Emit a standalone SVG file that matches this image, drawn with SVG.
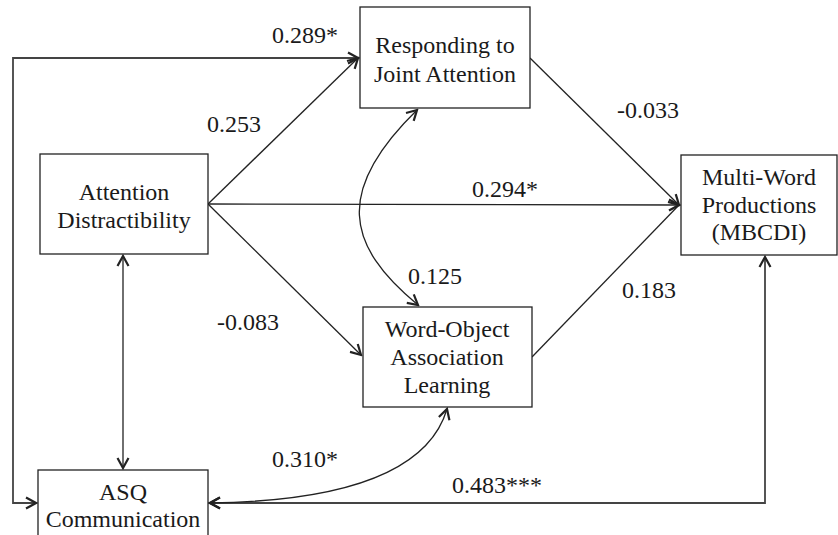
<svg xmlns="http://www.w3.org/2000/svg" width="838" height="535" viewBox="0 0 838 535">
<style>
.box{fill:#fff;stroke:#222;stroke-width:1.3}
.t{font-family:"Liberation Serif","Times New Roman",serif;font-size:24px;fill:#1a1a1a}
.c{text-anchor:middle}
.ln{fill:none;stroke:#222;stroke-width:1.3}
.fr{fill:none;stroke:#444;stroke-width:1.8}
</style>
<defs>
<marker id="ah" viewBox="-12 -7 14 14" markerWidth="14" markerHeight="14" refX="0" refY="0" orient="auto-start-reverse" markerUnits="userSpaceOnUse">
<path d="M -10,-5.5 L 0,0 L -10,5.5" fill="none" stroke="#222" stroke-width="2.2"/>
</marker>
</defs>
<rect width="838" height="535" fill="#fff"/>
<g id="connectors">
<path class="fr" d="M 36,503 L 13,503 L 13,58 L 358,58" marker-start="url(#ah)" marker-end="url(#ah)"/>
<path class="fr" d="M 210,503 L 765,503 L 765,257" marker-start="url(#ah)" marker-end="url(#ah)"/>
<path class="ln" d="M 123,256 L 123,468" marker-start="url(#ah)" marker-end="url(#ah)"/>
<path class="ln" d="M 208,204 L 358,58" marker-end="url(#ah)"/>
<path class="ln" d="M 208,204 L 679,205" marker-end="url(#ah)"/>
<path class="ln" d="M 208,204 L 361,355" marker-end="url(#ah)"/>
<path class="ln" d="M 530,58 L 679,205" marker-end="url(#ah)"/>
<path class="ln" d="M 532,357 L 679,205"/>
<path class="ln" d="M 417,110 C 335,190 345,245 418,305" marker-start="url(#ah)" marker-end="url(#ah)"/>
<path class="ln" d="M 447,409 Q 420,500 210,503" marker-start="url(#ah)" marker-end="url(#ah)"/>
</g>
<g id="rja">
<rect class="box" x="360" y="7" width="170" height="101"/>
<text class="t c" x="445" y="53">Responding to</text>
<text class="t c" x="445" y="82">Joint Attention</text>
</g>
<g id="ad">
<rect class="box" x="40" y="154" width="168" height="100"/>
<text class="t c" x="124" y="200">Attention</text>
<text class="t c" x="124" y="228">Distractibility</text>
</g>
<g id="mw">
<rect class="box" x="681" y="155" width="156" height="100"/>
<text class="t c" x="759" y="185">Multi-Word</text>
<text class="t c" x="759" y="213">Productions</text>
<text class="t c" x="759" y="240">(MBCDI)</text>
</g>
<g id="woal">
<rect class="box" x="363" y="307" width="169" height="100"/>
<text class="t c" x="447" y="337">Word-Object</text>
<text class="t c" x="447" y="365">Association</text>
<text class="t c" x="447" y="393">Learning</text>
</g>
<g id="asq">
<rect class="box" x="38" y="470" width="170" height="80"/>
<text class="t c" x="123" y="500">ASQ</text>
<text class="t c" x="123" y="527">Communication</text>
</g>
<g id="labels">
<text class="t" x="272" y="43">0.289*</text>
<text class="t" x="207" y="132">0.253</text>
<text class="t" x="617" y="118">-0.033</text>
<text class="t" x="472" y="197">0.294*</text>
<text class="t" x="408" y="284">0.125</text>
<text class="t" x="622" y="298">0.183</text>
<text class="t" x="217" y="330">-0.083</text>
<text class="t" x="272" y="467">0.310*</text>
<text class="t" x="452" y="493">0.483***</text>
</g>
</svg>
